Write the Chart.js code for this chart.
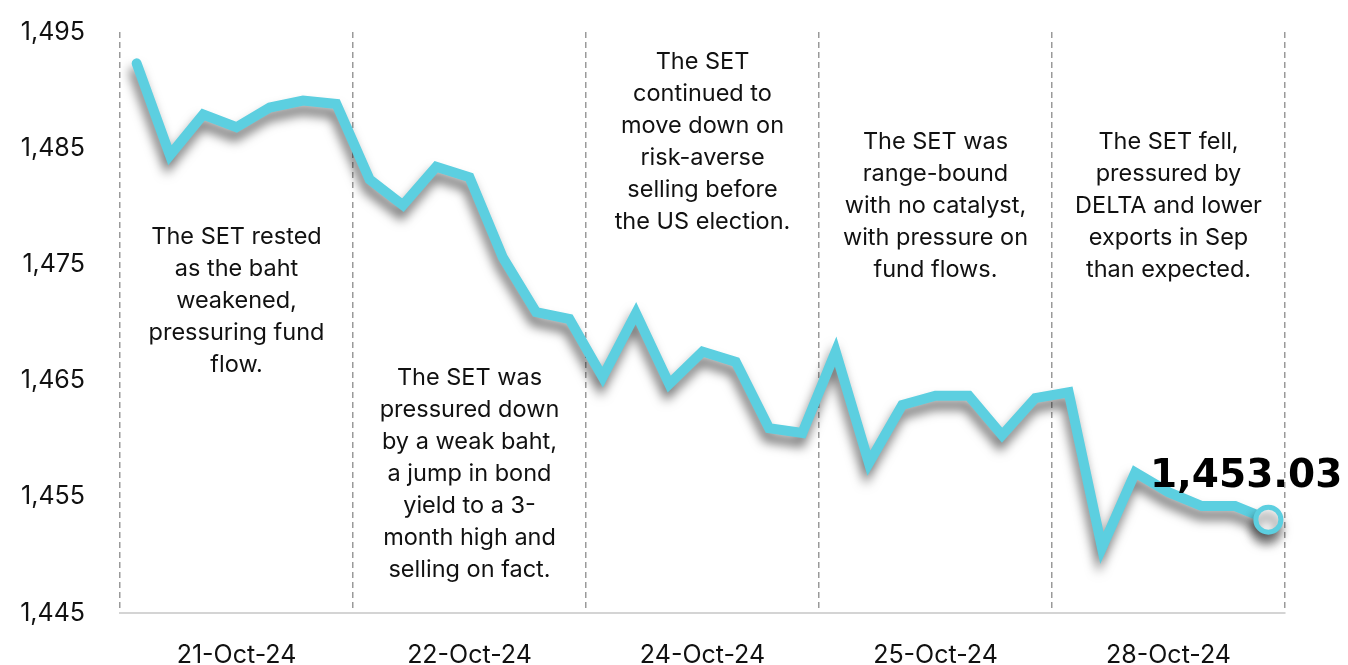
<!DOCTYPE html>
<html lang="en">
<head>
  <meta charset="UTF-8" />
  <title>SET Index, 21-28 Oct 2024</title>
  <script src="https://cdn.jsdelivr.net/npm/chart.js"></script>
  <style>
    body {
      margin: 0;
      background: #ffffff;
      font-family: Inter, sans-serif;
    }
    .chart-box {
      width: 1348px;
      height: 665px;
      position: relative;
    }
  </style>
</head>
<body>
  <div class="chart-box">
    <canvas id="setChart"></canvas>
  </div>

  <script>
    // trading days shown on the x axis, 7 readings per day
    const days = ['21-Oct-24', '22-Oct-24', '24-Oct-24', '25-Oct-24', '28-Oct-24'];
    const perDay = 7;

    // SET index readings
    const setIndex = [
      1492.3, 1484.4, 1487.9, 1486.8, 1488.5, 1489.1, 1488.8,
      1482.3, 1480.1, 1483.4, 1482.5, 1475.6, 1470.9, 1470.3,
      1465.3, 1470.8, 1464.7, 1467.5, 1466.6, 1460.9, 1460.5,
      1467.5, 1457.9, 1462.9, 1463.7, 1463.7, 1460.3, 1463.5,
      1464.0, 1450.6, 1457.1, 1455.4, 1454.2, 1454.2, 1453.03
    ];

    const yTicks = [1445, 1455, 1465, 1475, 1485, 1495];

    // comment for each day
    const notes = [
      ['The SET rested', 'as the baht', 'weakened,', 'pressuring fund', 'flow.'],
      ['The SET was', 'pressured down', 'by a weak baht,', 'a jump in bond', 'yield to a 3-', 'month high and', 'selling on fact.'],
      ['The SET', 'continued to', 'move down on', 'risk-averse', 'selling before', 'the US election.'],
      ['The SET was', 'range-bound', 'with no catalyst,', 'with pressure on', 'fund flows.'],
      ['The SET fell,', 'pressured by', 'DELTA and lower', 'exports in Sep', 'than expected.']
    ];
    // where the first line of each comment sits, in index points
    const noteTop = [1477.4, 1465.2, 1492.4, 1485.5, 1485.5];

    const lineColor = '#5ccfe0';
    const last = setIndex.length - 1;

    // one label per reading, only the middle one of each day is shown
    const labels = setIndex.map((v, i) => days[Math.floor(i / perDay)]);

    const lineShadow = {
      id: 'lineShadow',
      beforeDatasetDraw(chart) {
        const ctx = chart.ctx;
        ctx.save();
        ctx.shadowColor = 'rgba(0, 0, 0, 0.55)';
        ctx.shadowBlur = 11;
        ctx.shadowOffsetX = -2;
        ctx.shadowOffsetY = 9;
      },
      afterDatasetDraw(chart) {
        chart.ctx.restore();
      }
    };

    const noteText = {
      id: 'noteText',
      beforeDatasetsDraw(chart) {
        const { ctx, scales: { x, y } } = chart;
        ctx.save();
        ctx.fillStyle = '#111111';
        ctx.font = '23.5px Inter';
        ctx.textAlign = 'center';
        ctx.textBaseline = 'middle';
        notes.forEach((lines, d) => {
          const cx = x.getPixelForValue(d * perDay + 3);
          const top = y.getPixelForValue(noteTop[d]);
          lines.forEach((t, k) => ctx.fillText(t, cx, top + k * 32));
        });
        ctx.restore();
      },
      afterDatasetsDraw(chart) {
        const { ctx } = chart;
        const pt = chart.getDatasetMeta(0).data[last];
        ctx.save();
        ctx.fillStyle = '#000000';
        ctx.font = 'bold 39px "DejaVu Sans"';
        ctx.textAlign = 'right';
        ctx.textBaseline = 'alphabetic';
        ctx.fillText(setIndex[last].toLocaleString('en-US', { minimumFractionDigits: 2 }), pt.x + 74, pt.y - 33);
        ctx.restore();
      }
    };

    new Chart(document.getElementById('setChart'), {
      type: 'line',
      data: {
        labels: labels,
        datasets: [{
          data: setIndex,
          borderColor: lineColor,
          borderWidth: 10,
          borderCapStyle: 'round',
          tension: 0,
          pointRadius: ctx => ctx.dataIndex === last ? 12.5 : 0,
          pointHoverRadius: ctx => ctx.dataIndex === last ? 12.5 : 0,
          pointBackgroundColor: '#ffffff',
          pointBorderColor: lineColor,
          pointBorderWidth: 5
        }]
      },
      options: {
        responsive: true,
        maintainAspectRatio: false,
        animation: false,
        layout: { autoPadding: false, padding: { top: 32, right: 63, left: 0, bottom: 0 } },
        plugins: {
          legend: { display: false },
          tooltip: { enabled: false }
        },
        scales: {
          x: {
            offset: true,
            afterFit(scale) { scale.height = 52; },
            grid: {
              offset: true,
              drawTicks: false,
              lineWidth: 1.5,
              color: ctx => (ctx.index === undefined || ctx.index % perDay === 0) ? '#9a9a9a' : 'rgba(0,0,0,0)'
            },
            border: { display: true, color: '#d4d4d4', width: 2, dash: [6, 4] },
            ticks: {
              autoSkip: false,
              maxRotation: 0,
              padding: 30,
              color: '#111111',
              font: { family: 'Inter', size: 25, lineHeight: 1 },
              callback: (v, i) => i % perDay === 3 ? labels[i] : ''
            }
          },
          y: {
            min: 1445,
            max: 1495,
            afterFit(scale) {
              scale.width = 120;
              scale.paddingTop = 0;
              scale.paddingBottom = 0;
            },
            afterBuildTicks(scale) { scale.ticks = yTicks.map(v => ({ value: v })); },
            grid: { display: false, drawTicks: false },
            border: { display: false },
            ticks: {
              padding: 35,
              color: '#111111',
              font: { family: 'Inter', size: 25 },
              callback: v => v.toLocaleString('en-US')
            }
          }
        }
      },
      plugins: [lineShadow, noteText]
    });
  </script>
</body>
</html>
